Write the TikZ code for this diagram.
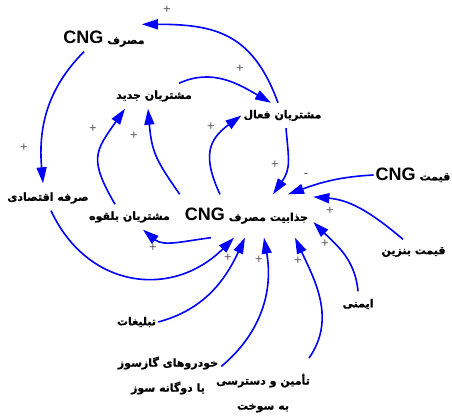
\documentclass[tikz,border=0pt]{standalone}
\usepackage{fontspec}
\setmainfont{Liberation Sans}
\newfontfamily\farsi[Script=Arabic,BoldFeatures={FakeBold=0.8}]{DejaVu Sans}
\usetikzlibrary{arrows.meta}
\TeXXeTstate=1

\newcommand{\fa}[1]{\beginR #1\endR}
\newcommand{\cng}{\mbox{\rmfamily\bfseries\fontsize{18}{18}\selectfont CNG}}

\begin{document}
\begin{tikzpicture}[x=1pt,y=1pt,
    var/.style={font=\farsi\bfseries\fontsize{11}{13}\selectfont, inner xsep=2pt, inner ysep=0pt, minimum height=25pt},
    link/.style={blue, line width=1.6pt, -{Triangle[length=16pt,width=10pt]}},
    sign/.style={text=black!65, font=\rmfamily\fontsize{13}{13}\selectfont, inner sep=0pt}]
    \useasboundingbox (0,0) rectangle (452,415);

    % variables
    \node[var] (masraf) at (104,376) {\fa{مصرف \cng}};
    \node[var] (jadid) at (154,319) {\fa{مشتریان جدید}};
    \node[var] (faal) at (282.5,299.5) {\fa{مشتریان فعال}};
    \node[var] (sarfe) at (48,217) {\fa{صرفه اقتصادی}};
    \node[var] (balqove) at (129.5,198) {\fa{مشتریان بلقوه}};
    \node[var, minimum height=43pt, inner xsep=5pt] (jazab) at (246.5,199) {\fa{جذابیت مصرف \cng}};
    \node[var] (qcng) at (413,240) {\fa{قیمت \cng}};
    \node[var] (benzin) at (413.5,163) {\fa{قیمت بنزین}};
    \node[var] (imeni) at (358,111) {\fa{ایمنی}};
    \node[var] (tablighat) at (136.5,93) {\fa{تبلیغات}};
    \node[var, align=center] (khodro) at (168,39.5) {\fa{خودروهای گازسوز}\\[12pt]\fa{یا دوگانه سوز}};
    \node[var, align=center] (tamin) at (263,22) {\fa{تأمین و دسترسی}\\[12pt]\fa{به سوخت}};

    % links
    \draw[link] ([xshift=-4.5pt]faal.north) to[out=110,in=0,looseness=1.2] ([shift={(-5pt,2pt)}]masraf.north east);
    \draw[link] ([xshift=-20pt]masraf.south) to[out=225,in=95] ([shift={(-5pt,2pt)}]sarfe.north);
    \draw[link] ([xshift=25pt]jadid.north) to[out=25,in=150] ([xshift=-11.5pt]faal.north);
    \draw[link] ([xshift=-14.5pt]balqove.north) to[out=120,in=235,looseness=1.4] ([xshift=-29pt]jadid.south);
    \draw[link] (jazab.north west) to[out=125,in=275,looseness=1.2] ([xshift=-6pt]jadid.south);
    \draw[link] ([xshift=-26.5pt]jazab.north) to[out=115,in=216,looseness=1.3] (faal.west);
    \draw[link] ([xshift=3.5pt]faal.south) to[out=-85,in=55,looseness=1.2] ([xshift=26.5pt]jazab.north);
    \draw[link] (qcng.west) to[out=183,in=20] ([xshift=41.5pt]jazab.north);
    \draw[link] ([xshift=-10.5pt]benzin.north) to[out=140,in=355] ([yshift=-2.5pt]jazab.north east);
    \draw[link] (imeni.north) to[out=95,in=315] ([yshift=-6pt]jazab.east);
    \draw[link] ([shift={(-3pt,15.5pt)}]tamin.north east) to[out=55,in=295] ([xshift=48.5pt]jazab.south);
    \draw[link] ([shift={(1pt,-10pt)}]khodro.north east) to[out=40,in=280] ([xshift=17.5pt]jazab.south);
    \draw[link] (tablighat.east) to[out=15,in=245] ([xshift=-1.5pt]jazab.south);
    \draw[link] ([xshift=3pt]sarfe.south) to[out=-65,in=225,looseness=1.2] ([xshift=-12.5pt]jazab.south);
    \draw[link] ([xshift=-35.5pt]jazab.south) to[out=187,in=320] ([xshift=13.5pt]balqove.south);

    % polarities
    \node[sign] (s1) at (167,405) {+};
    \node[sign] (s2) at (24,267) {+};
    \node[sign] (s3) at (240,346) {+};
    \node[sign] (s4) at (93,286) {+};
    \node[sign] (s5) at (134,279) {+};
    \node[sign] (s6) at (211,288) {+};
    \node[sign] (s7) at (275,250) {+};
    \node[sign] (s8) at (306,239) {-};
    \node[sign] (s9) at (330,204) {+};
    \node[sign] (s10) at (325,171) {+};
    \node[sign] (s11) at (298,154) {+};
    \node[sign] (s12) at (259,155) {+};
    \node[sign] (s13) at (228,157) {+};
    \node[sign] (s15) at (153,167) {+};
\end{tikzpicture}
\end{document}
